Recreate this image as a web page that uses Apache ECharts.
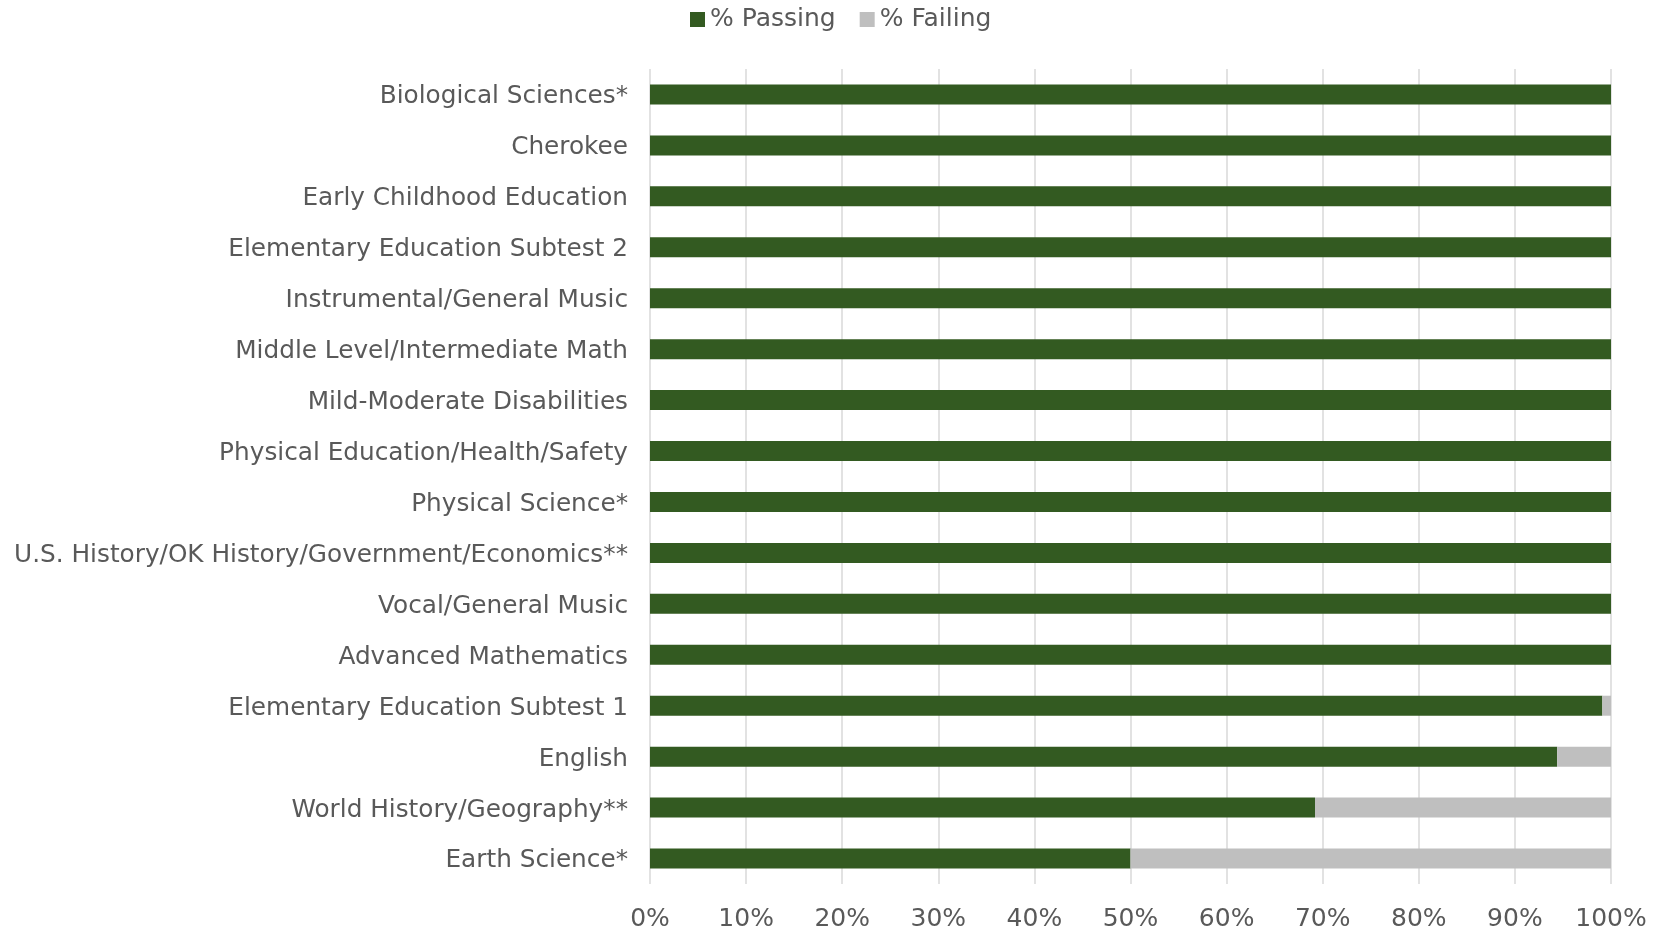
<!DOCTYPE html>
<html>
<head>
<meta charset="utf-8">
<script src="https://cdn.jsdelivr.net/npm/echarts@6/dist/echarts.min.js"></script>
<style>html,body{margin:0;padding:0;background:#fff}#c{width:1660px;height:929px}</style>
</head>
<body>
<div id="c"></div>
<script>
const categories = [
  "Biological Sciences*",
  "Cherokee",
  "Early Childhood Education",
  "Elementary Education Subtest 2",
  "Instrumental/General Music",
  "Middle Level/Intermediate Math",
  "Mild-Moderate Disabilities",
  "Physical Education/Health/Safety",
  "Physical Science*",
  "U.S. History/OK History/Government/Economics**",
  "Vocal/General Music",
  "Advanced Mathematics",
  "Elementary Education Subtest 1",
  "English",
  "World History/Geography**",
  "Earth Science*"
];
const passing = [100,100,100,100,100,100,100,100,100,100,100,100,99.1,94.4,69.2,50];
const failing = [0,0,0,0,0,0,0,0,0,0,0,0,0.9,5.6,30.8,50];
const xTicks = [0,10,20,30,40,50,60,70,80,90,100];

const chart = echarts.init(document.getElementById('c'));
const font = 'DejaVu Sans, Verdana, sans-serif';
chart.setOption({
  animation: false,
  legend: {
    top: 2,
    left: 685,
    itemWidth: 15,
    itemHeight: 15,
    itemGap: 24,
    icon: 'rect',
    textStyle: {fontFamily: font, fontSize: 25, color: '#595959'},
    data: ['% Passing', '% Failing']
  },
  grid: {left: 650, right: 49, top: 69, bottom: 45, containLabel: false, outerBoundsMode: 'none'},
  xAxis: {
    type: 'value',
    min: xTicks[0],
    max: xTicks[xTicks.length - 1],
    interval: 10,
    axisLabel: {formatter: '{value}%', fontFamily: font, fontSize: 25, color: '#595959', margin: 23},
    axisLine: {show: false},
    axisTick: {show: false},
    splitLine: {show: true, lineStyle: {color: '#D9D9D9', width: 1.5}}
  },
  yAxis: {
    type: 'category',
    inverse: true,
    data: categories,
    axisLabel: {
      margin: 22,
      formatter: v => '{a|' + v + '}',
      rich: {a: {fontFamily: font, fontSize: 24.75, color: '#595959', padding: [5, 0, 0, 0]}}
    },
    axisLine: {show: false},
    axisTick: {show: false}
  },
  series: [
    {name: '% Passing', type: 'bar', stack: 'a', data: passing, barWidth: 20,
     itemStyle: {color: '#335A21'}},
    {name: '% Failing', type: 'bar', stack: 'a', data: failing, barWidth: 20,
     itemStyle: {color: '#BFBFBF'}}
  ]
});
</script>
</body>
</html>
